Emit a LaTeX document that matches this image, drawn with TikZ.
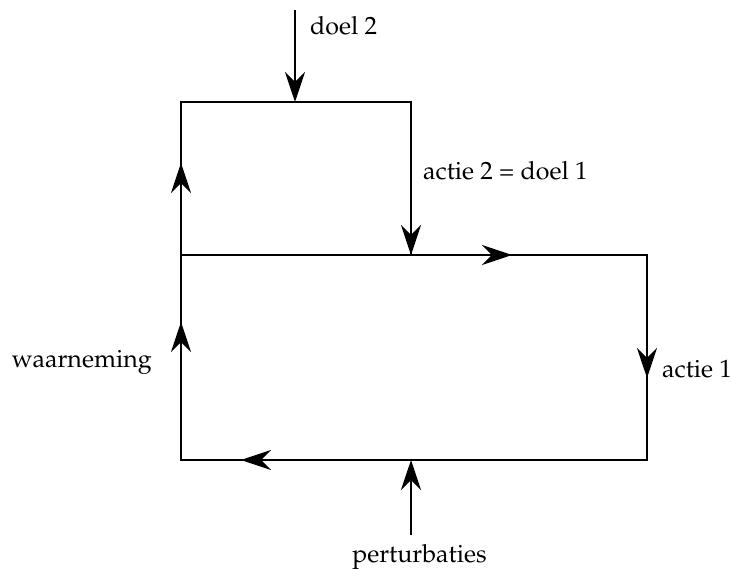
\documentclass[tikz,border=0pt]{standalone}
\IfFileExists{mathpazo.sty}{%
  \usepackage[T1]{fontenc}\usepackage{mathpazo}%
  \newcommand\lblsize{\fontsize{25}{30}\selectfont}}{%
  \usepackage{fontspec}\setmainfont{Liberation Serif}%
  \newcommand\lblsize{\fontsize{27}{32}\selectfont}}
\usetikzlibrary{arrows.meta}
\tikzset{
  ln/.style={line width=2.6pt, line join=miter},
  arr/.style={-{Stealth[length=30pt,width=20pt,inset=10pt]}},
  lbl/.style={inner sep=0pt, font=\lblsize}
}
\begin{document}
\begin{tikzpicture}[x=1pt,y=1pt]
\useasboundingbox (0,0) rectangle (731,568);
% corners
\coordinate (A) at (181,466);
\coordinate (B) at (411,466);
\coordinate (C) at (181,313);
\coordinate (D) at (411,313);
\coordinate (E) at (647,313);
\coordinate (F) at (647,108);
\coordinate (G) at (411,108);
\coordinate (H) at (181,108);
% arrow tips on the loops
\coordinate (t1) at (181,405);
\coordinate (t2) at (181,246);
\coordinate (t3) at (512,313);
\coordinate (t4) at (647,190);
\coordinate (t5) at (241,108);
% input arrows
\coordinate (d2s) at (295,558);
\coordinate (d2e) at (295,466);
\coordinate (ps) at (411,33);
\coordinate (pe) at (411,108);
% loops (plain lines)
\draw[ln] (C) -- (E) -- (F) -- (H) -- cycle;
\draw[ln] (C) -- (A) -- (B) -- (D);
% arrowheads along the loops
\draw[ln,arr] (C) -- (t3);
\draw[ln,arr] (E) -- (t4);
\draw[ln,arr] (F) -- (t5);
\draw[ln,arr] (H) -- (t2);
\draw[ln,arr] (C) -- (t1);
\draw[ln,arr] (B) -- (D);
% input arrows
\draw[ln,arr] (d2s) -- (d2e);
\draw[ln,arr] (ps) -- (pe);
% labels
\node[lbl, anchor=base west] (ldoel2) at (310,533) {doel 2};
\node[lbl, anchor=base west] (lactie2) at (423,388) {actie 2 = doel 1};
\node[lbl, anchor=base east] (lwaar) at (152,200) {waarneming};
\node[lbl, anchor=base west] (lactie1) at (662,190) {actie 1};
\node[lbl, anchor=base] (lpert) at (419.5,6) {perturbaties};
\end{tikzpicture}
\end{document}
